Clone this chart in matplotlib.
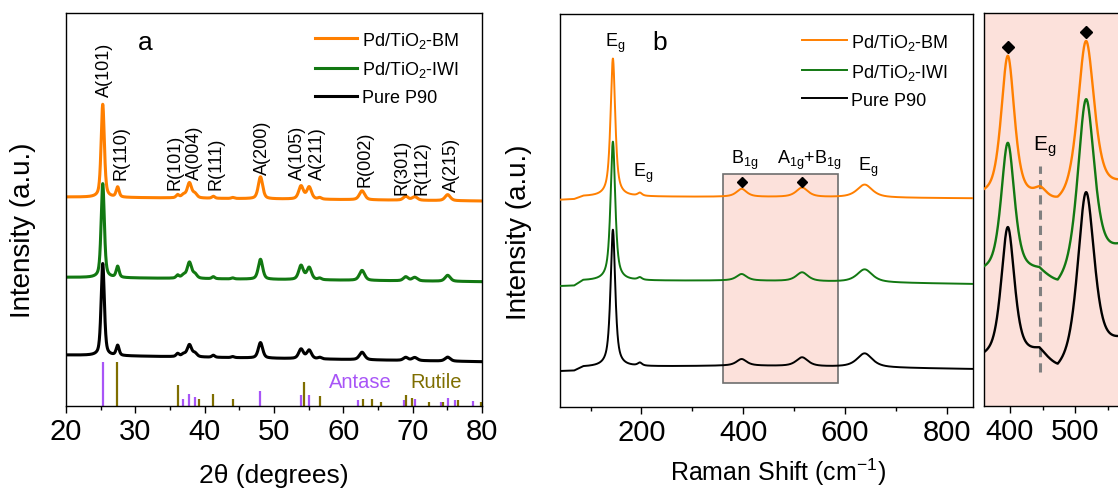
import numpy as np
import matplotlib
matplotlib.use('Agg')
import matplotlib.pyplot as plt
from matplotlib.patches import Rectangle
from matplotlib.ticker import MultipleLocator

plt.rcParams['font.family'] = ['Liberation Sans', 'DejaVu Sans']
plt.rcParams['mathtext.fontset'] = 'custom'
plt.rcParams['mathtext.rm'] = 'Liberation Sans'
plt.rcParams['mathtext.it'] = 'Liberation Sans:italic'
plt.rcParams['mathtext.default'] = 'regular'

# ---------------- data ----------------
samples = ['Pd/TiO$_2$-BM', 'Pd/TiO$_2$-IWI', 'Pure P90']
colors = ['#FF7F00', '#127812', '#000000']

# XRD peaks (2theta, deg), FWHM, heights (a.u.) per sample
xrd_pos = [25.3, 27.45, 36.1, 36.95, 37.8, 38.6, 41.25, 44.05, 48.05, 53.9, 55.07, 56.6, 62.7, 69.0, 70.3, 75.05]
xrd_fwhm = [0.55, 0.5, 0.5, 0.7, 0.75, 0.7, 0.5, 0.5, 0.75, 0.8, 0.8, 0.6, 0.9, 0.8, 0.9, 0.9]
xrd_h_bm = [93, 10, 3, 3, 15, 4, 2, 1, 22, 13, 12, 1.5, 9, 4, 3.5, 6]
xrd_h_iwi = [94, 11, 3, 3, 16, 4, 2, 1, 20, 14, 12, 1.5, 10, 4, 3.5, 6]
xrd_h_p90 = [92, 10, 3, 2.5, 12, 3.5, 2, 1, 15.5, 9.5, 8.5, 1.5, 7.5, 3, 3, 4]
xrd_base_bm = [209, 205]
xrd_base_iwi = [128.7, 124.3]
xrd_base_p90 = [51, 44.3]

xrd_labels = ['A(101)', 'R(110)', 'R(101)', 'A(004)', 'R(111)', 'A(200)',
              'A(105)', 'A(211)', 'R(002)', 'R(301)', 'R(112)', 'A(215)']

# reference patterns
anatase_pos = [25.28, 36.92, 37.74, 38.6, 48.03, 53.9, 55.1, 62.16, 68.8, 70.3, 74.1, 75.05, 76.1, 78.75]
anatase_h = [44, 7, 12, 9, 14.7, 10.7, 11, 6, 6.3, 7.3, 4, 8, 6, 5]
rutile_pos = [27.4, 36.1, 39.2, 41.25, 44.04, 54.3, 56.6, 62.8, 64.1, 65.5, 69.0, 69.95, 72.4, 74.4, 76.5, 79.9]
rutile_h = [44, 21.5, 7, 11.7, 7, 24, 10, 7, 7, 4, 11.3, 8, 4, 4, 6, 4]

# Raman peaks (cm-1), FWHM, heights
raman_pos = [144, 197, 397, 516, 639]
raman_fwhm = [11, 10, 24, 28, 36]
raman_h_bm = [138, 3, 8, 9.5, 13]
raman_h_iwi = [139, 2.5, 6.5, 9, 13]
raman_h_p90 = [137, 3, 6.5, 9, 14]
raman_base_w = [40, 68, 85, 400, 852]
raman_base_bm = [207, 207.5, 210.5, 210, 208.7]
raman_base_iwi = [120.7, 121, 126.3, 126.3, 123]
raman_base_p90 = [35.7, 36, 40, 41.3, 38]

# zoomed Raman region
zoom_pos = [397, 447, 516]
zoom_fwhm = [24, 22, 30]
zoom_h_bm = [143, 8, 159]
zoom_h_iwi = [131, 0, 174]
zoom_h_p90 = [131, 2, 169]
zoom_base_w = [360, 445, 473, 516, 580]
zoom_base_bm = [207.5, 203, 196, 205, 222]
zoom_base_iwi = [131, 130, 113, 132, 160]
zoom_base_p90 = [45, 48, 29, 44, 66]


def pvoigt(x, pos, fwhm, h, eta):
    y = np.zeros_like(x)
    for p, w, a in zip(pos, fwhm, h):
        d = (x - p) / w
        y += a * (eta / (1 + 4 * d * d) + (1 - eta) * np.exp(-4 * np.log(2) * d * d))
    return y


# ---------------- figure ----------------
W, H = 1118, 489
fig = plt.figure(figsize=(W / 100, H / 100), dpi=100)


def axes_px(l, t, r, b):
    return fig.add_axes([l / W, 1 - b / H, (r - l) / W, (b - t) / H])


axa = axes_px(66, 14, 482, 407)
axb = axes_px(560, 15, 973, 408)
axc = axes_px(983.5, 14, 1128, 407)

TICKFS = 21
for ax in (axa, axb, axc):
    for s in ax.spines.values():
        s.set_linewidth(1.0)
    ax.tick_params(axis='x', which='major', direction='out', length=5, width=1.0,
                   labelsize=TICKFS, pad=3, top=False)
    ax.tick_params(axis='x', which='minor', direction='out', length=3, width=1.0, top=False)
    ax.tick_params(axis='y', which='both', left=False, right=False, labelleft=False)

# ---- panel a ----
tt = np.linspace(20, 80, 4000)
xrd_sets = [(xrd_h_bm, xrd_base_bm), (xrd_h_iwi, xrd_base_iwi), (xrd_h_p90, xrd_base_p90)]
lines_a = []
for (hh, bb), c, lab in zip(xrd_sets, colors, samples):
    y = np.interp(tt, [20, 80], bb) + pvoigt(tt, xrd_pos, xrd_fwhm, hh, 0.5)
    ln, = axa.plot(tt, y, color=c, lw=2.2, label=lab)
    lines_a.append(ln)
axa.vlines(anatase_pos, 0, anatase_h, color='#A855F7', lw=1.6)
axa.vlines(rutile_pos, 0, rutile_h, color='#7F6E00', lw=1.6)
axa.set_xlim(20, 80)
axa.set_ylim(0, 393)
axa.xaxis.set_major_locator(MultipleLocator(10))
axa.xaxis.set_minor_locator(MultipleLocator(5))

lab_x = [25.5, 28.0, 35.7, 38.6, 41.7, 48.4, 53.4, 56.3, 63.1, 68.4, 71.3, 75.6]
lab_y = [310, 227, 217, 227, 217, 232, 227, 227, 220, 212, 212, 215]
for t, x, y in zip(xrd_labels, lab_x, lab_y):
    axa.text(x, y, t, rotation=90, ha='center', va='bottom', fontsize=13)
axa.text(31.4, 364, 'a', ha='center', va='center', fontsize=19)
axa.text(62.4, 24, 'Antase', color='#A855F7', ha='center', va='center', fontsize=14.5)
axa.text(73.4, 24, 'Rutile', color='#7F6E00', ha='center', va='center', fontsize=14.5)
axa.legend(handles=lines_a, loc='upper left', bbox_to_anchor=(0.599, 0.958), frameon=False,
           fontsize=13, handlelength=2.3, handletextpad=0.3, labelspacing=0.55,
           borderpad=0, borderaxespad=0)

# ---- panel b ----
ww = np.linspace(40, 852, 4000)
raman_sets = [(raman_h_bm, raman_base_bm), (raman_h_iwi, raman_base_iwi), (raman_h_p90, raman_base_p90)]
lines_b = []
for (hh, bb), c, lab in zip(raman_sets, colors, samples):
    y = np.interp(ww, raman_base_w, bb) + pvoigt(ww, raman_pos, raman_fwhm, hh, 0.75)
    ln, = axb.plot(ww, y, color=c, lw=1.4, label=lab, zorder=3)
    lines_b.append(ln)
axb.add_patch(Rectangle((361, 24), 225, 209, facecolor='#FCE1DB', edgecolor='#6E6E6E',
                        lw=1.2, zorder=1))
axb.plot([397, 516], [225, 225], ls='none', marker='D', ms=5, color='black', zorder=4)
axb.set_xlim(40, 852)
axb.set_ylim(0, 393)
axb.xaxis.set_major_locator(MultipleLocator(200))
axb.xaxis.set_minor_locator(MultipleLocator(100))
axb.text(148, 365, 'E$_g$', ha='center', va='center', fontsize=13)
axb.text(236, 365, 'b', ha='center', va='center', fontsize=19)
axb.text(203, 235, 'E$_g$', ha='center', va='center', fontsize=13)
axb.text(404, 248, 'B$_{1g}$', ha='center', va='center', fontsize=13)
axb.text(531, 248, 'A$_{1g}$+B$_{1g}$', ha='center', va='center', fontsize=13)
axb.text(646, 241, 'E$_g$', ha='center', va='center', fontsize=13)
axb.legend(handles=lines_b, loc='upper left', bbox_to_anchor=(0.586, 0.955), frameon=False,
           fontsize=13, handlelength=2.5, handletextpad=0.2, labelspacing=0.55,
           borderpad=0, borderaxespad=0)

# ---- panel c ----
zz = np.linspace(360, 580, 2000)
zoom_sets = [(zoom_h_bm, zoom_base_bm), (zoom_h_iwi, zoom_base_iwi), (zoom_h_p90, zoom_base_p90)]
for (hh, bb), c in zip(zoom_sets, colors):
    y = np.interp(zz, zoom_base_w, bb) + pvoigt(zz, zoom_pos, zoom_fwhm, hh, 0.6)
    axc.plot(zz, y, color=c, lw=1.7, zorder=3)
axc.set_facecolor('#FCE1DB')
axc.plot([397, 516], [358.7, 373.7], ls='none', marker='D', ms=6, color='black', zorder=4)
axc.plot([445.6, 445.6], [34, 240], color='#808080', lw=2.2, ls=(0, (3, 2)), zorder=2)
axc.text(453, 260, 'E$_g$', ha='center', va='center', fontsize=15)
axc.set_xlim(360, 580)
axc.set_ylim(0, 393)
axc.xaxis.set_major_locator(MultipleLocator(100))
axc.xaxis.set_minor_locator(MultipleLocator(50))

# ---- axis labels ----
fig.text(23 / W, 1 - 230 / H, 'Intensity (a.u.)', rotation=90, ha='center', va='center', fontsize=20)
fig.text(519 / W, 1 - 232 / H, 'Intensity (a.u.)', rotation=90, ha='center', va='center', fontsize=20)
fig.text(274 / W, 1 - 476 / H, '2\u03b8 (degrees)', ha='center', va='center', fontsize=19)
fig.text(778 / W, 1 - 472 / H, 'Raman Shift (cm$^{-1}$)', ha='center', va='center', fontsize=18)

fig.savefig('out.png', dpi=100)
